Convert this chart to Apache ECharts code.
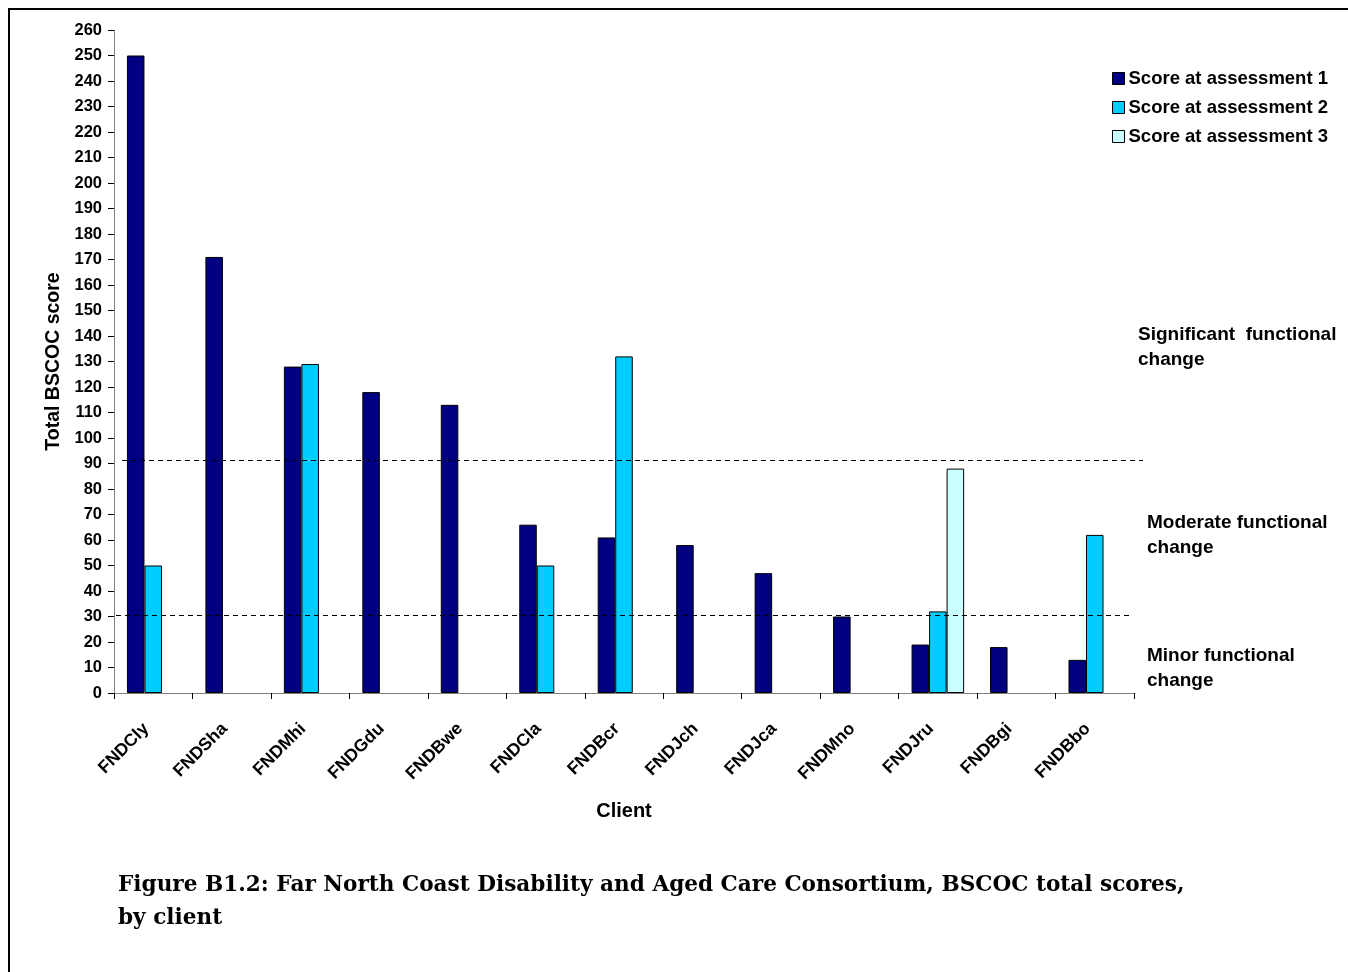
<!DOCTYPE html>
<html>
<head>
<meta charset="utf-8">
<script src="https://cdn.jsdelivr.net/npm/echarts@6/dist/echarts.min.js"></script>
<style>
  html, body { margin: 0; padding: 0; background: #fff; }
  #chart { width: 1348px; height: 972px; }
</style>
</head>
<body>
<div id="chart"></div>
<script>
// BSCOC total scores per client, across up to three assessments
const clients = ['FNDCly', 'FNDSha', 'FNDMhi', 'FNDGdu', 'FNDBwe', 'FNDCla', 'FNDBcr',
                 'FNDJch', 'FNDJca', 'FNDMno', 'FNDJru', 'FNDBgi', 'FNDBbo'];
const assessment1 = [250, 171, 128, 118, 113, 66, 61, 58, 47, 30, 19, 18, 13];
const assessment2 = [50, '-', 129, '-', '-', 50, 132, '-', '-', '-', 32, '-', 62];
const assessment3 = ['-', '-', '-', '-', '-', '-', '-', '-', '-', '-', 88, '-', '-'];
const seriesNames = ['Score at assessment 1', 'Score at assessment 2', 'Score at assessment 3'];
const yTicks = { min: 0, max: 260, interval: 10 };
// Thresholds separating minor / moderate / significant functional change
const thresholds = [91.5, 30.7];
// Band annotations, placed at the score level of their first line
const bandLabels = [
  { text: 'Significant  functional\nchange', value: 140.4 },
  { text: 'Moderate functional\nchange', value: 66.7 },
  { text: 'Minor functional\nchange', value: 14.5 }
];
const caption = 'Figure B1.2: Far North Coast Disability and Aged Care Consortium, BSCOC total scores,\nby client';

const colors = ['#000080', '#00CCFF', '#CCFFFF'];
const FONT = '"Liberation Sans", Arial, sans-serif';

const chart = echarts.init(document.getElementById('chart'), null, { renderer: 'canvas' });

const barStyle = (c) => ({ color: c, borderColor: '#000', borderWidth: 1 });

chart.setOption({
  backgroundColor: '#fff',
  animation: false,
  grid: { left: 114, right: 214, top: 30, bottom: 279, containLabel: false },
  legend: {
    orient: 'vertical',
    left: 1112,
    top: 69,
    padding: 0,
    itemWidth: 12,
    itemHeight: 12,
    itemGap: 10,
    icon: 'rect',
    textStyle: { fontFamily: FONT, fontWeight: 'bold', fontSize: 18.5, lineHeight: 17,
                 color: '#000', padding: [0, 0, 0, -1] },
    data: seriesNames.map((n, i) => ({
      name: n,
      itemStyle: { color: colors[i], borderColor: '#000', borderWidth: 1 }
    }))
  },
  xAxis: {
    type: 'category',
    data: clients,
    name: 'Client',
    nameLocation: 'middle',
    nameGap: 108,
    nameTextStyle: { fontFamily: FONT, fontWeight: 'bold', fontSize: 20, color: '#000' },
    axisLine: { lineStyle: { color: '#808080', width: 1 } },
    axisTick: { show: true, length: 6, lineStyle: { color: '#000' } },
    axisLabel: {
      rotate: 45, margin: 26, interval: 0, verticalAlign: 'middle', padding: [0, 10, 0, 0],
      fontFamily: FONT, fontWeight: 'bold', fontSize: 17.5, color: '#000'
    }
  },
  yAxis: {
    type: 'value',
    min: yTicks.min, max: yTicks.max, interval: yTicks.interval,
    name: 'Total BSCOC score',
    nameLocation: 'middle',
    nameGap: 45,
    nameRotate: 90,
    nameTextStyle: { fontFamily: FONT, fontWeight: 'bold', fontSize: 19.5, color: '#000' },
    axisLine: { show: true, lineStyle: { color: '#808080', width: 1 } },
    axisTick: { show: true, length: 6, lineStyle: { color: '#000' } },
    axisLabel: { margin: 12, fontFamily: FONT, fontWeight: 'bold', fontSize: 16.5, color: '#000' },
    splitLine: { show: false }
  },
  series: [
    { name: seriesNames[0], type: 'bar', data: assessment1, itemStyle: barStyle(colors[0]),
      barGap: '0%', barCategoryGap: '33%' },
    { name: seriesNames[1], type: 'bar', data: assessment2, itemStyle: barStyle(colors[1]),
      barGap: '0%', barCategoryGap: '33%' },
    { name: seriesNames[2], type: 'bar', data: assessment3, itemStyle: barStyle(colors[2]),
      barGap: '0%', barCategoryGap: '33%' }
  ]
});

// Threshold lines, band annotations, caption and page frame
const yPix = (v) => chart.convertToPixel({ yAxisIndex: 0 }, v);
const lineExtents = [[122, 1143], [116, 1130]];
const graphics = [
  {
    type: 'rect', silent: true,
    shape: { x: 9, y: 9, width: 1400, height: 1000 },
    style: { fill: 'none', stroke: '#000', lineWidth: 2 }
  }
];
thresholds.forEach((v, i) => {
  const y = Math.round(yPix(v)) + 0.5;
  graphics.push({
    type: 'line', silent: true, z: 10,
    shape: { x1: lineExtents[i][0], y1: y, x2: lineExtents[i][1], y2: y },
    style: { stroke: '#000', lineWidth: 1, lineDash: [5, 4] }
  });
});
const bandX = [1138, 1147, 1147];
const bandLine = 25;
bandLabels.forEach((b, i) => {
  graphics.push({
    type: 'text', silent: true,
    x: bandX[i], y: yPix(b.value) - bandLine / 2,
    style: { text: b.text, fontFamily: FONT, fontWeight: 'bold', fontSize: 19,
             lineHeight: bandLine, fill: '#000', verticalAlign: 'top' }
  });
});
graphics.push({
  type: 'text', silent: true, x: 118, y: 869,
  style: { text: caption, fontFamily: '"DejaVu Serif", serif',
           fontWeight: 'bold', fontSize: 21.6, lineHeight: 33, fill: '#000', verticalAlign: 'top' }
});
chart.setOption({ graphic: graphics });
</script>
</body>
</html>
